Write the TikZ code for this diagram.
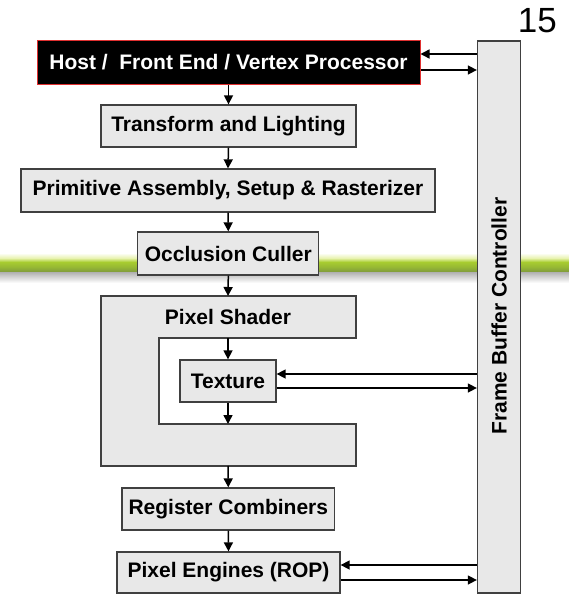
\documentclass[tikz,border=0pt]{standalone}
\usepackage{fontspec}
\setmainfont{Liberation Sans}
\usetikzlibrary{arrows.meta}
\definecolor{boxfill}{HTML}{E8E8E8}
\definecolor{boxline}{HTML}{404040}
\definecolor{bandpale}{HTML}{E8F3B0}
\definecolor{bandhi}{HTML}{A8CC30}
\definecolor{bandmid}{HTML}{96B834}
\definecolor{banddk}{HTML}{7F9A3C}
\definecolor{bandgray}{HTML}{B0B0B0}
\definecolor{hostred}{HTML}{E03030}
\tikzset{
  stage/.style={draw=boxline, line width=1.3pt, fill=boxfill, inner sep=0pt,
    font=\fontsize{21}{25}\selectfont\bfseries, text=black},
  hoststage/.style={stage, draw=hostred, line width=1pt, fill=black, text=white},
  flow/.style={draw=black, line width=1.5pt, -{Triangle[length=9pt,width=9pt]}},
}
\begin{document}
\begin{tikzpicture}[x=1pt,y=-1pt]
\useasboundingbox (0,0) rectangle (569,594);

% green band across the page
\shade[top color=white, bottom color=bandpale] (0,253) rectangle (569,258);
\shade[top color=bandpale, bottom color=bandhi] (0,258) rectangle (569,262);
\shade[top color=bandhi, bottom color=bandmid] (0,262) rectangle (569,267);
\shade[top color=bandmid, bottom color=banddk] (0,267) rectangle (569,272);
\shade[top color=bandgray, bottom color=white] (0,272) rectangle (569,283);

% page number
\node[anchor=base east, font=\fontsize{35}{40}\selectfont, inner sep=0pt] (pnum) at (557,33) {15};

% pipeline stages
\node[hoststage, minimum width=383pt, minimum height=43pt] (host) at (228.5,62.5) {Host /~ Front End / Vertex Processor};
\node[stage, minimum width=255pt, minimum height=42pt] (tl) at (228.5,126) {Transform and Lighting};
\node[stage, minimum width=414pt, minimum height=43pt] (prim) at (228,190.5) {Primitive Assembly, Setup \& Rasterizer};
\node[stage, minimum width=181pt, minimum height=43pt] (occ) at (228.3,253.5) {Occlusion Culler};

% pixel shader wraps around the texture unit
\draw[draw=boxline, line width=1.3pt, fill=boxfill]
  (101,296) -- (356,296) -- (356,338) -- (159,338) -- (159,424) -- (356,424)
  -- (356,466) -- (101,466) -- cycle;
\node[font=\fontsize{21}{25}\selectfont\bfseries, inner sep=0pt] (ps) at (228,317) {Pixel Shader};
\coordinate (pstop) at (228,296);
\coordinate (psin) at (228,338);
\coordinate (psout) at (228,424);
\coordinate (psbot) at (228,466);

\node[stage, minimum width=96pt, minimum height=42pt] (tex) at (228,381) {Texture};
\node[stage, minimum width=212.5pt, minimum height=42pt] (rc) at (228.3,509) {Register Combiners};
\node[stage, minimum width=223pt, minimum height=41pt] (pe) at (228.5,572.5) {Pixel Engines (ROP)};

% frame buffer controller
\node[stage, minimum width=43pt, minimum height=552pt] (fbc) at (499,317) {};
\node[rotate=90, font=\fontsize{21}{25}\selectfont\bfseries, inner sep=0pt] (fbclabel) at (499,316) {Frame Buffer Controller};

% vertical flow
\draw[flow] (host.south) -- (tl.north);
\draw[flow] (tl.south) -- (prim.north);
\draw[flow] (prim.south) -- (occ.north);
\draw[flow] (occ.south) -- (pstop);
\draw[flow] (psin) -- (tex.north);
\draw[flow] (tex.south) -- (psout);
\draw[flow] (psbot) -- (rc.north);
\draw[flow] (rc.south) -- (pe.north);

% memory traffic to and from the frame buffer controller
\draw[flow] (fbc.west |- 0,54) -- (host.east |- 0,54);
\draw[flow] (host.east |- 0,70) -- (fbc.west |- 0,70);
\draw[flow] (fbc.west |- 0,374) -- (tex.east |- 0,374);
\draw[flow] (tex.east |- 0,388) -- (fbc.west |- 0,388);
\draw[flow] (fbc.west |- 0,565) -- (pe.east |- 0,565);
\draw[flow] (pe.east |- 0,580) -- (fbc.west |- 0,580);
\end{tikzpicture}
\end{document}
